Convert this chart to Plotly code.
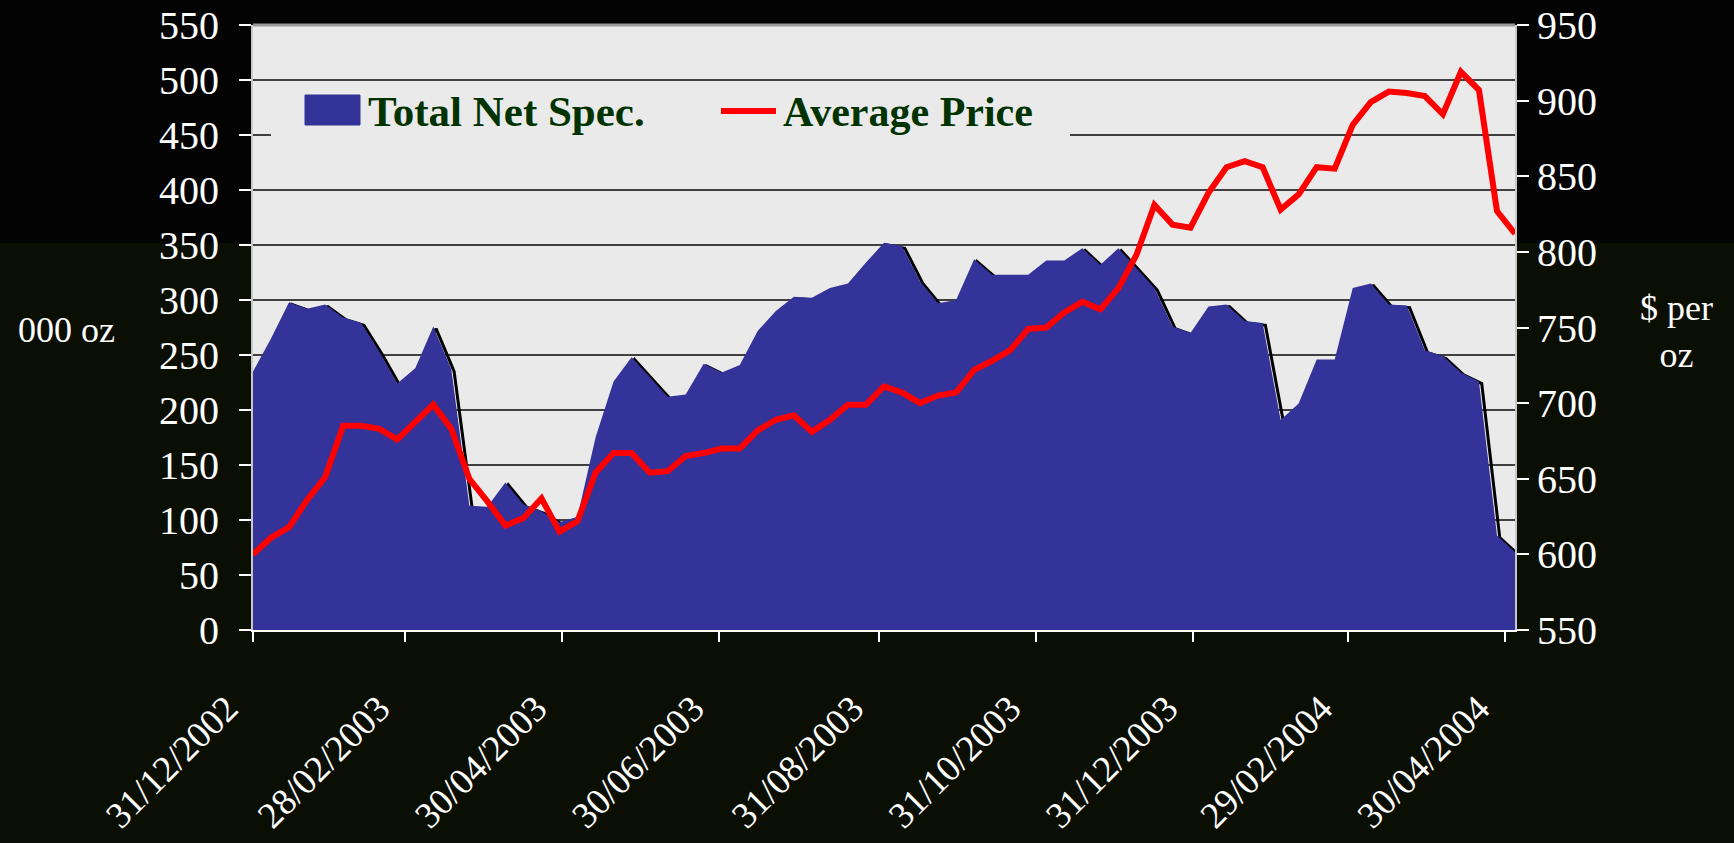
import numpy as np
import pandas as pd
import plotly.graph_objects as go

# ---------------- data ----------------
start_date = "2002-12-31"   # weekly observations (Tuesdays)

net_spec = [235, 265, 298, 292, 296, 284, 279, 253, 224, 238,
            276, 237, 113, 112, 134, 114, 108, 98, 103, 175,
            226, 248, 230, 212, 214, 242, 234, 241, 272, 290,
            303, 302, 311, 315, 334, 352, 349, 317, 297, 300,
            337, 323, 323, 323, 336, 336, 347, 332, 347, 329,
            311, 276, 270, 294, 296, 281, 279, 191, 206, 246,
            246, 311, 315, 296, 295, 254, 249, 234, 226, 86,
            71]

avg_price = [600, 611, 618, 636, 651, 685, 685, 683, 676, 688,
             699, 683, 650, 635, 619, 624, 637, 615, 622, 654,
             667, 667, 654, 655, 665, 667, 670, 670, 682, 689,
             692, 681, 689, 699, 699, 711, 707, 700, 705, 707,
             722, 728, 735, 749, 750, 760, 767, 762, 776, 798,
             831, 818, 816, 839, 856, 860, 856, 828, 838, 856,
             855, 884, 899, 906, 905, 903, 891, 919, 907, 827,
             812]

tick_dates = ["2002-12-31", "2003-02-28", "2003-04-30", "2003-06-30",
              "2003-08-31", "2003-10-31", "2003-12-31", "2004-02-29",
              "2004-04-30"]
tick_labels = ["31/12/2002", "28/02/2003", "30/04/2003", "30/06/2003",
               "31/08/2003", "31/10/2003", "31/12/2003", "29/02/2004",
               "30/04/2004"]
left_ticks = list(range(0, 551, 50))
right_ticks = list(range(550, 951, 50))

series_names = ["Total Net Spec.", "Average Price"]
left_title = "000 oz"
right_title = "$ per<br>oz"

# ---------------- figure ----------------
dates = pd.date_range(start_date, periods=len(net_spec), freq="7D")
SERIF = "Times New Roman, Liberation Serif, serif"
BLUE = "#333399"
RED = "#FF0000"
GREEN = "#003300"

fig = go.Figure()

# drop shadow of the area (offset right/down, drawn behind the fill)
fig.add_trace(go.Scatter(
    x=dates + pd.Timedelta(hours=26), y=np.array(net_spec) - 2,
    mode="lines", line=dict(color="black", width=3),
    showlegend=False, hoverinfo="skip"))

fig.add_trace(go.Scatter(
    x=dates, y=net_spec, name=series_names[0], mode="lines",
    fill="tozeroy", fillcolor=BLUE, line=dict(color=BLUE, width=0),
    showlegend=False))

fig.add_trace(go.Scatter(
    x=dates, y=avg_price, name=series_names[1], mode="lines",
    yaxis="y2", line=dict(color=RED, width=6), showlegend=False))

W, H = 1734, 843
L, R, T, B = 253, 219, 25, 213
PW, PH = W - L - R, H - T - B


def px_x(px):
    return (px - L) / PW


def px_y(py):
    return (H - B - py) / PH


shapes = []
# background bands (outside the plot area)
top_band = "#020302"
yb0, yb1 = px_y(243), px_y(-2)
for x0, x1, y0, y1 in [(px_x(-2), 0, yb0, yb1), (1, px_x(W + 2), yb0, yb1), (0, 1, 1, yb1)]:
    shapes.append(dict(type="rect", xref="paper", yref="paper", x0=x0, x1=x1,
                       y0=y0, y1=y1, fillcolor=top_band, line=dict(width=0),
                       layer="below"))
# top border of plot area
shapes.append(dict(type="line", xref="paper", yref="paper", x0=0, x1=1, y0=1, y1=1,
                   line=dict(color="#9a9a9a", width=3), layer="above"))
# legend background
shapes.append(dict(type="rect", xref="paper", yref="paper",
                   x0=px_x(271), x1=px_x(1070), y0=px_y(142), y1=px_y(86),
                   fillcolor="#EAEAEA", line=dict(width=0), layer="above"))
# legend keys
shapes.append(dict(type="rect", xref="paper", yref="paper",
                   x0=px_x(305), x1=px_x(360), y0=px_y(125), y1=px_y(95),
                   fillcolor=BLUE, line=dict(color=BLUE, width=1), layer="above"))
shapes.append(dict(type="line", xref="paper", yref="paper",
                   x0=px_x(721), x1=px_x(776), y0=px_y(111), y1=px_y(111),
                   line=dict(color=RED, width=6), layer="above"))

annotations = [
    dict(text=series_names[0], xref="paper", yref="paper", x=px_x(366), y=px_y(112),
         xanchor="left", yanchor="middle", showarrow=False,
         font=dict(family=SERIF, size=43, color=GREEN, weight="bold")),
    dict(text=series_names[1], xref="paper", yref="paper", x=px_x(781), y=px_y(112),
         xanchor="left", yanchor="middle", showarrow=False,
         font=dict(family=SERIF, size=42, color=GREEN, weight="bold")),
    dict(text=left_title, xref="paper", yref="paper", x=px_x(66), y=px_y(330),
         xanchor="center", yanchor="middle", showarrow=False,
         font=dict(family=SERIF, size=36, color="white")),
    dict(text=right_title, xref="paper", yref="paper", x=px_x(1676), y=px_y(331),
         xanchor="center", yanchor="middle", showarrow=False,
         font=dict(family=SERIF, size=36, color="white")),
]

fig.update_layout(
    width=W, height=H,
    margin=dict(l=L, r=R, t=T, b=B, pad=0, autoexpand=False),
    paper_bgcolor="#0b0e03",
    plot_bgcolor="#EAEAEA",
    showlegend=False,
    shapes=shapes,
    annotations=annotations,
    xaxis=dict(
        type="date", range=[dates[0], dates[-1]],
        tickmode="array", tickvals=tick_dates, ticktext=tick_labels,
        tickangle=-45, ticks="outside", ticklen=10, tickwidth=2, tickcolor="white",
        tickfont=dict(family=SERIF, size=37, color="white"),
        ticklabelstandoff=30, ticklabelshift=-26,
        automargin=False,
        showgrid=False, zeroline=False,
        showline=True, linecolor="white", linewidth=2,
    ),
    yaxis=dict(
        range=[0, 550], tickmode="array", tickvals=left_ticks,
        ticks="outside", ticklen=12, tickwidth=2, tickcolor="white",
        tickfont=dict(family=SERIF, size=40, color="white"),
        ticklabelstandoff=12, automargin=False,
        showgrid=True, gridcolor="#404040", gridwidth=2,
        zeroline=False, showline=True, linecolor="#c8c8c8", linewidth=2,
    ),
    yaxis2=dict(
        range=[550, 950], tickmode="array", tickvals=right_ticks,
        overlaying="y", side="right", automargin=False,
        ticks="outside", ticklen=12, tickwidth=2, tickcolor="white",
        tickfont=dict(family=SERIF, size=40, color="white"),
        showgrid=False, zeroline=False,
        showline=True, linecolor="#c8c8c8", linewidth=2,
    ),
)

fig.write_html("out.html", config={"displayModeBar": False},
               post_script="document.body.style.margin='0';document.body.style.overflow='hidden';")
